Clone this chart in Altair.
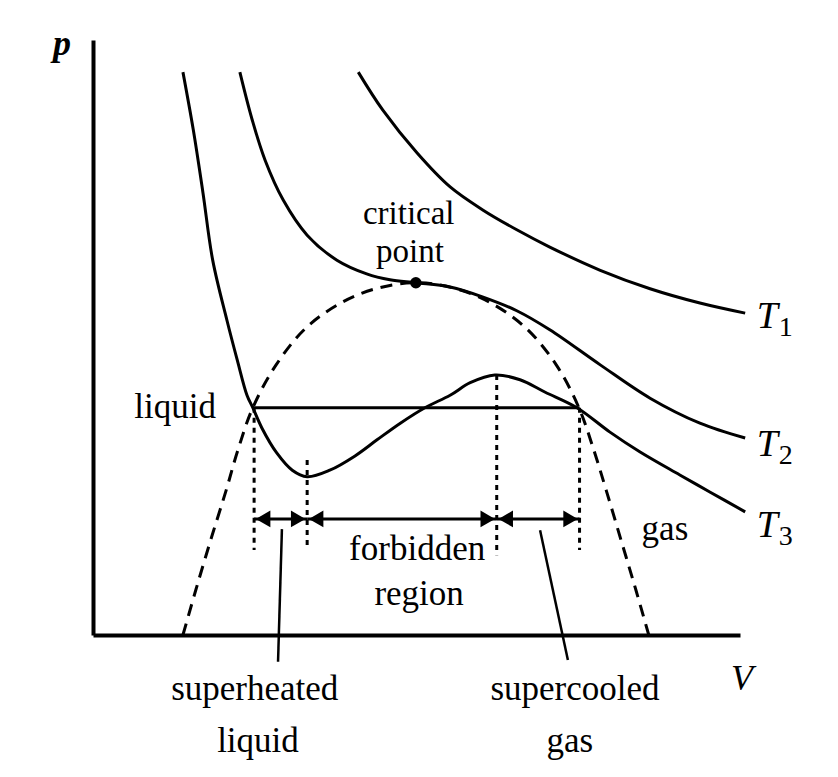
import altair as alt
import pandas as pd

# ---- isotherms (V, p in arbitrary units) ----
T1_V = [4.10, 4.48, 5.01, 5.52, 6.03, 6.55, 7.06, 7.84, 8.61, 9.38, 10.08]
T1_p = [9.46, 8.82, 8.10, 7.53, 7.14, 6.81, 6.52, 6.13, 5.82, 5.58, 5.41]

T2_V = [2.27, 2.46, 2.66, 2.94, 3.31, 3.77, 4.23, 4.59, 4.99, 5.52, 6.03, 6.55, 7.06,
        7.84, 8.61, 9.38, 10.08]
T2_p = [9.46, 8.66, 7.98, 7.31, 6.72, 6.30, 6.07, 5.97, 5.92, 5.85, 5.68, 5.45, 5.13,
        4.54, 3.98, 3.56, 3.31]

T3_V = [1.39, 1.55, 1.70, 1.85, 2.07, 2.23, 2.38, 2.47, 2.61, 2.84, 3.08, 3.31, 3.66, 4.05,
        4.39, 4.75, 5.13, 5.52, 5.83, 6.21, 6.60, 6.99, 7.48, 7.99, 8.45, 9.07, 9.54, 10.08]
T3_p = [9.46, 8.49, 7.43, 6.30, 5.29, 4.62, 4.03, 3.82, 3.48, 3.06, 2.77, 2.66, 2.77, 3.01,
        3.28, 3.56, 3.82, 4.03, 4.24, 4.37, 4.29, 4.08, 3.82, 3.41, 3.08, 2.69, 2.40, 2.07]

# coexistence dome (dashed)
dome_V = [1.39, 1.59, 1.82, 2.06, 2.24, 2.47, 2.83, 3.29, 3.83, 4.37, 4.99,
          5.61, 6.15, 6.69, 7.16, 7.51, 7.74, 7.93, 8.16, 8.39, 8.59]
dome_p = [0.0, 0.76, 1.60, 2.44, 3.11, 3.82, 4.54, 5.16, 5.58, 5.82, 5.92,
          5.82, 5.58, 5.16, 4.54, 3.82, 3.11, 2.44, 1.60, 0.76, 0.0]

# horizontal tie line
tie_V = [2.47, 7.52]
tie_p = 3.82

# critical point
crit_V = [4.99]
crit_p = [5.92]

# dotted verticals
dot_V = [2.49, 3.31, 6.24, 7.52]
dot_top = [3.82, 2.94, 4.37, 3.82]
dot_bottom = [1.43, 1.43, 1.34, 1.43]

# double arrows
arrow_start = [2.49, 3.31, 6.24]
arrow_end = [3.31, 6.24, 7.52]
arrow_p = 1.95

# leader lines
lead_V1 = [2.92, 6.91]
lead_p1 = [1.78, 1.76]
lead_V2 = [2.86, 7.34]
lead_p2 = [-0.45, -0.42]

# labels
text_labels = ["liquid", "forbidden", "region", "gas",
               "superheated", "liquid", "supercooled", "gas"]
text_V = [1.27, 5.01, 5.04, 8.84, 2.50, 2.55, 7.45, 7.37]
text_p = [3.65, 1.26, 0.50, 1.60, -1.09, -1.97, -1.09, -1.97]

crit_labels = ["critical", "point"]
crit_lab_V = [4.88, 4.90]
crit_lab_p = [6.91, 6.27]

T_labels = ["T", "T", "T"]
T_sub = ["1", "2", "3"]
T_V = [10.26, 10.26, 10.26]
T_p = [5.16, 3.01, 1.65]
T_sub_V = [10.60, 10.60, 10.60]
T_sub_p = [5.03, 2.87, 1.51]

# ---- data tables ----
curves = pd.concat([
    pd.DataFrame({"V": T1_V, "p": T1_p, "curve": "T1"}),
    pd.DataFrame({"V": T2_V, "p": T2_p, "curve": "T2"}),
    pd.DataFrame({"V": T3_V, "p": T3_p, "curve": "T3"}),
], ignore_index=True)
dome = pd.DataFrame({"V": dome_V, "p": dome_p})
tie = pd.DataFrame({"V": [tie_V[0]], "V2": [tie_V[1]], "p": [tie_p]})
crit = pd.DataFrame({"V": crit_V, "p": crit_p})
dots = pd.DataFrame({"V": dot_V, "p": dot_top, "p2": dot_bottom})
arrows = pd.DataFrame({"V": arrow_start, "V2": arrow_end, "p": [arrow_p] * 3})
leads = pd.DataFrame({"V": lead_V1, "p": lead_p1, "V2": lead_V2, "p2": lead_p2})
texts = pd.DataFrame({"label": text_labels, "V": text_V, "p": text_p})
ctexts = pd.DataFrame({"label": crit_labels, "V": crit_lab_V, "p": crit_lab_p})
tl = pd.DataFrame({"label": T_labels, "V": T_V, "p": T_p})
ts = pd.DataFrame({"label": T_sub, "V": T_sub_V, "p": T_sub_p})
axis_lbl_p = pd.DataFrame({"label": ["p"], "V": [-0.48], "p": [9.75]})
axis_lbl_V = pd.DataFrame({"label": ["V"], "V": [10.03], "p": [-0.92]})

xs = alt.Scale(domain=[0, 10], nice=False, zero=False)
ys = alt.Scale(domain=[0, 10], nice=False, zero=False)
ax = alt.Axis(labels=False, ticks=False, grid=False, title=None,
              domainWidth=4, domainColor="black")

def X(f="V"):
    return alt.X(f"{f}:Q", scale=xs, axis=ax)

def Y(f="p"):
    return alt.Y(f"{f}:Q", scale=ys, axis=ax)

FONT = "Liberation Serif"
FS = 35

iso = alt.Chart(curves).mark_line(color="black", strokeWidth=3, interpolate="catmull-rom").encode(
    x=X(), y=Y(), detail="curve:N")
dome_l = alt.Chart(dome).mark_line(color="black", strokeWidth=3, strokeDash=[12, 8],
                                   interpolate="catmull-rom").encode(x=X(), y=Y())
tie_l = alt.Chart(tie).mark_rule(color="black", strokeWidth=3).encode(
    x=X(), x2="V2:Q", y=Y())
crit_pt = alt.Chart(crit).mark_circle(color="black", size=130, opacity=1).encode(x=X(), y=Y())
dot_l = alt.Chart(dots).mark_rule(color="black", strokeWidth=3, strokeDash=[5, 5]).encode(
    x=X(), y=Y(), y2="p2:Q")
arr_l = alt.Chart(arrows).mark_rule(color="black", strokeWidth=3).encode(
    x=X(), x2="V2:Q", y=Y())
head_l = alt.Chart(arrows).mark_point(shape="triangle-left", filled=True, color="black",
                                      size=280, opacity=1, xOffset=9).encode(x=X(), y=Y())
head_r = alt.Chart(arrows).mark_point(shape="triangle-right", filled=True, color="black",
                                      size=280, opacity=1, xOffset=-9).encode(x=X("V2"), y=Y())
lead_l = alt.Chart(leads).mark_rule(color="black", strokeWidth=2.5).encode(
    x=X(), y=Y(), x2="V2:Q", y2="p2:Q")
txt = alt.Chart(texts).mark_text(font=FONT, fontSize=FS, align="center",
                                 baseline="alphabetic", color="black").encode(
    x=X(), y=Y(), text="label:N")
ctxt = alt.Chart(ctexts).mark_text(font=FONT, fontSize=33, align="center",
                                   baseline="alphabetic", color="black").encode(
    x=X(), y=Y(), text="label:N")
tlab = alt.Chart(tl).mark_text(font=FONT, fontSize=38, fontStyle="italic", align="left",
                               baseline="alphabetic", color="black").encode(
    x=X(), y=Y(), text="label:N")
tsub = alt.Chart(ts).mark_text(font=FONT, fontSize=28, align="left",
                               baseline="alphabetic", color="black").encode(
    x=X(), y=Y(), text="label:N")
plab = alt.Chart(axis_lbl_p).mark_text(font=FONT, fontSize=36, fontStyle="italic",
                                       fontWeight="bold", align="center",
                                       baseline="alphabetic", color="black").encode(
    x=X(), y=Y(), text="label:N")
vlab = alt.Chart(axis_lbl_V).mark_text(font=FONT, fontSize=36, fontStyle="italic",
                                       align="center", baseline="alphabetic",
                                       color="black").encode(
    x=X(), y=Y(), text="label:N")

chart = alt.layer(
    dome_l, iso, tie_l, dot_l, arr_l, head_l, head_r, lead_l, crit_pt,
    txt, ctxt, tlab, tsub, plab, vlab
).properties(
    width=647, height=595,
    autosize=alt.AutoSizeParams(type="none"),
    padding={"left": 85, "top": 32, "right": 90, "bottom": 134},
    background="white",
).configure_view(stroke=None)

chart.save("out.html", embed_options={"renderer": "svg", "actions": False})
